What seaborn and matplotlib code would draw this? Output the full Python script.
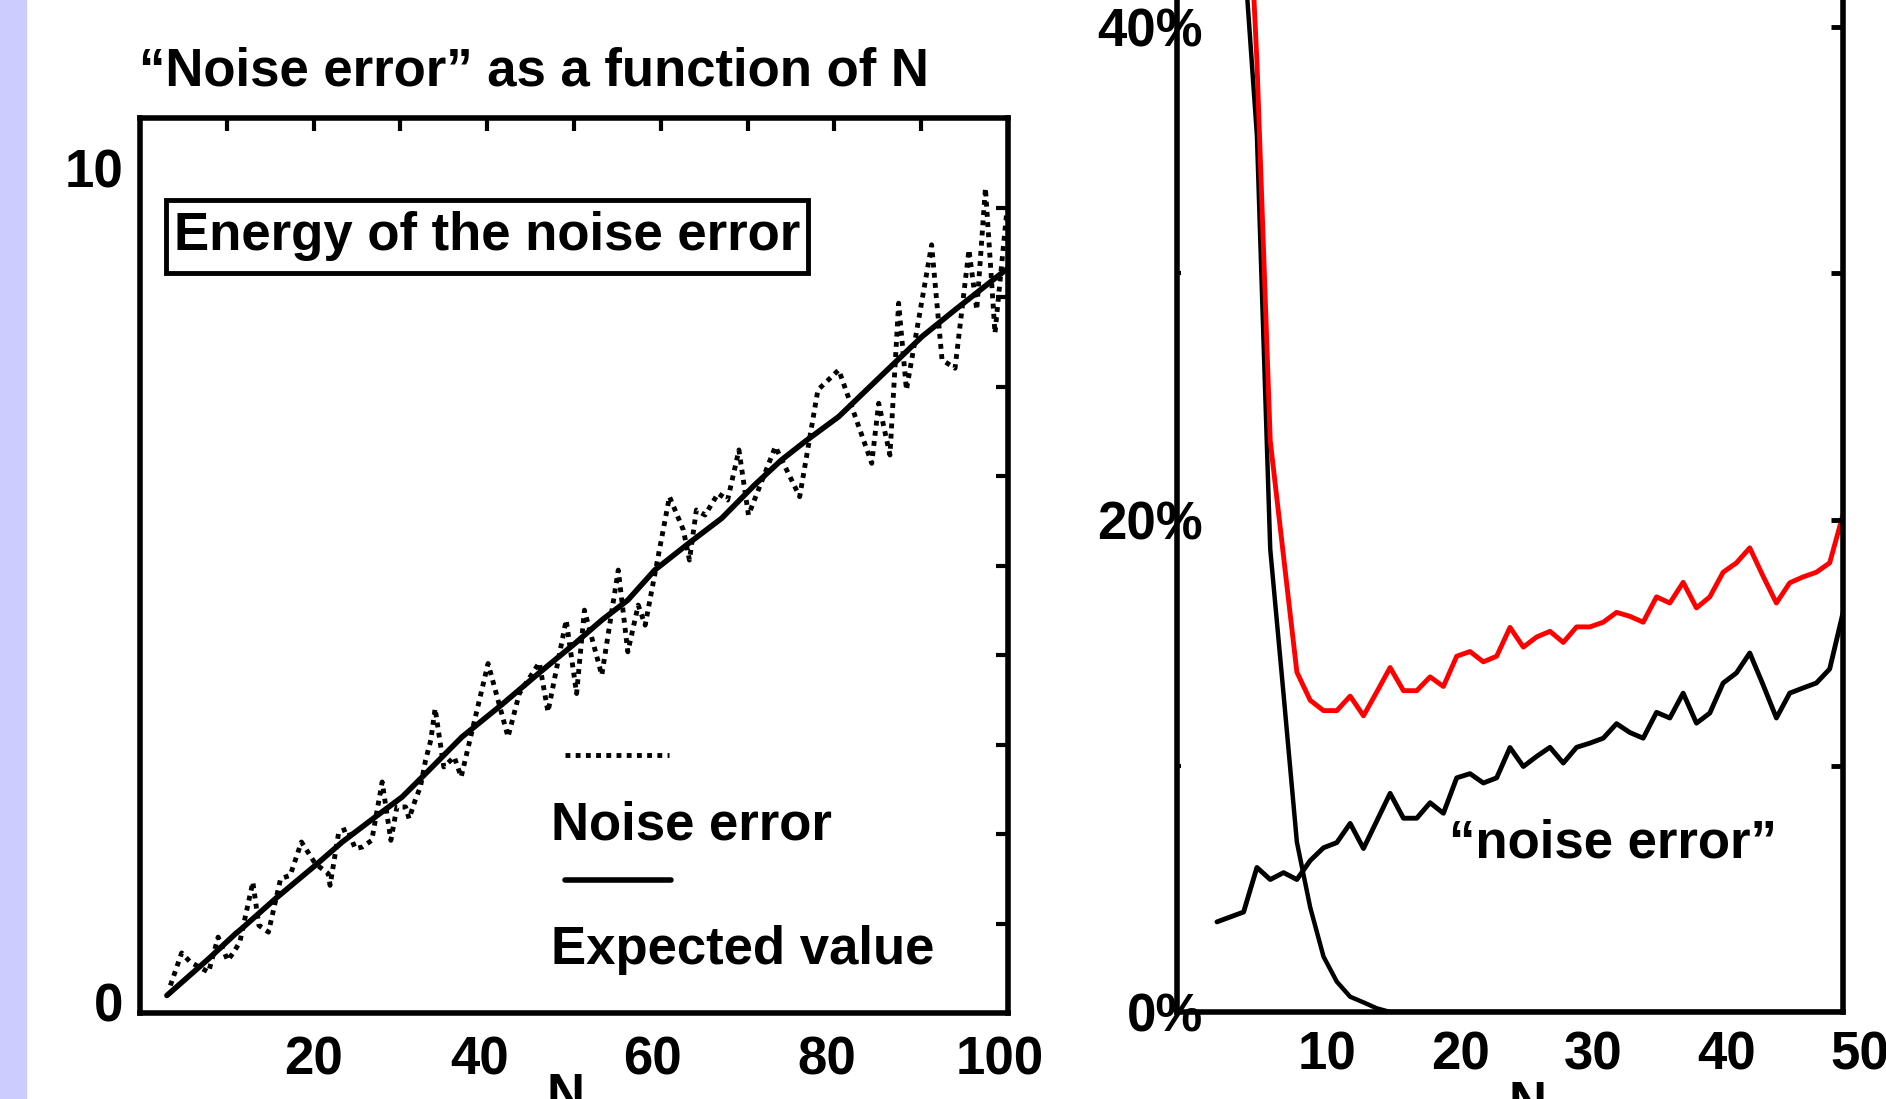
import numpy as np
import pandas as pd
import matplotlib
matplotlib.use('Agg')
import matplotlib.pyplot as plt
from matplotlib.lines import Line2D
from matplotlib.patches import Rectangle
from matplotlib.transforms import ScaledTranslation
import seaborn as sns

## ---------------- data ---------------- ##
# left panel: energy of the noise error as a function of N
noise_n = [3.5, 4.8, 5.8, 7.9, 9.0, 10.1, 10.8, 11.5, 13.0, 13.7, 14.8, 16.2, 17.3, 18.6,
           20.2, 21.7, 21.9, 22.9, 23.9, 24.8, 25.6, 26.7, 27.9, 28.9, 29.6, 30.6, 31.0,
           31.7, 32.3, 32.9, 33.5, 34.0, 35.0, 36.2, 37.0, 40.1, 42.4, 43.7, 46.0, 47.0,
           49.1, 50.3, 51.2, 53.2, 55.1, 56.2, 57.4, 58.2, 61.0, 62.6, 63.3, 64.1, 65.1,
           66.6, 67.7, 69.0, 70.1, 73.2, 76.0, 78.1, 80.5, 84.3, 85.1, 86.4, 87.4, 88.3,
           89.3, 91.2, 92.4, 93.9, 95.5, 96.4, 97.4, 98.5, 99.9]
noise_energy = [0.20, 0.59, 0.48, 0.36, 0.78, 0.50, 0.60, 0.72, 1.44, 0.92, 0.84, 1.48, 1.52, 1.92,
                1.66, 1.54, 1.40, 2.04, 2.08, 1.84, 1.86, 1.94, 2.64, 1.94, 2.34, 2.34, 2.20,
                2.42, 2.58, 2.90, 3.14, 3.52, 2.82, 2.94, 2.70, 4.06, 3.18, 3.70, 4.07, 3.48,
                4.58, 3.70, 4.70, 3.92, 5.18, 4.20, 4.76, 4.52, 6.06, 5.66, 5.30, 5.90, 5.84,
                6.10, 6.02, 6.62, 5.84, 6.66, 6.06, 7.34, 7.58, 6.46, 7.18, 6.56, 8.38, 7.34,
                7.94, 9.08, 7.70, 7.60, 9.02, 8.30, 9.76, 8.02, 9.52]
expected_n = [3.1, 7.9, 11.0, 11.7, 15.6, 20.2, 23.3, 27.1, 30.2, 32.9, 37.1, 41.6, 45.9, 50.1,
              53.2, 56.2, 59.3, 63.2, 67.0, 70.8, 73.9, 76.6, 80.5, 85.1, 90.1, 93.9, 100.0]
expected_energy = [0.08, 0.52, 0.82, 0.88, 1.24, 1.64, 1.92, 2.22, 2.46, 2.74, 3.18, 3.56, 3.94, 4.30,
                   4.58, 4.82, 5.18, 5.50, 5.80, 6.20, 6.50, 6.72, 7.02, 7.48, 7.98, 8.30, 8.80]

# right panel: error in percent as a function of N
pct_n = list(range(3, 51))
noise_pct = [3.66, 3.86, 4.06, 5.87, 5.38, 5.66, 5.38, 6.15, 6.67, 6.88, 7.66, 6.64, 7.76, 8.88,
             7.87, 7.87, 8.50, 8.07, 9.51, 9.68, 9.30, 9.51, 10.74, 9.97, 10.38, 10.75, 10.11,
             10.75, 10.92, 11.12, 11.71, 11.35, 11.12, 12.17, 11.94, 12.95, 11.73, 12.14, 13.36,
             13.77, 14.58, 13.29, 11.94, 12.95, 13.16, 13.36, 13.93, 16.21]
total_n = list(range(4, 51))
total_pct = [80.0, 50.0, 38.6, 23.2, 18.5, 13.8, 12.66, 12.24, 12.24, 12.83, 12.03, 13.0, 13.99,
             13.05, 13.05, 13.61, 13.22, 14.45, 14.64, 14.22, 14.45, 15.62, 14.82, 15.23, 15.46,
             15.01, 15.64, 15.64, 15.83, 16.23, 16.07, 15.83, 16.86, 16.61, 17.45, 16.41, 16.86,
             17.86, 18.24, 18.85, 17.70, 16.61, 17.43, 17.67, 17.86, 18.24, 20.20]
approx_pct = [65.0, 43.3, 35.6, 18.8, 12.9, 6.9, 4.25, 2.25, 1.23, 0.62, 0.39, 0.15] + [0.0] * 35

left_xticks = [10, 20, 30, 40, 50, 60, 70, 80, 90, 100]
left_xlabels = ['', '20', '', '40', '', '60', '', '80', '', '100']
left_yticks = [0, 10]
right_xticks = [5, 10, 15, 20, 25, 30, 35, 40, 45, 50]
right_xlabels = ['', '10', '', '20', '', '30', '', '40', '', '50']
right_yticks = [0, 10, 20, 30, 40]
right_ylabels = ['0%', '', '20%', '', '40%']

## ---------------- style ---------------- ##
sns.set_style('white')
plt.rcParams['font.family'] = ['Liberation Sans', 'DejaVu Sans']
plt.rcParams['font.weight'] = 'bold'
for k in ['text.color', 'axes.labelcolor', 'xtick.color', 'ytick.color', 'axes.edgecolor']:
    plt.rcParams[k] = 'black'
FS = 38

W, H = 1886, 1099
fig = plt.figure(figsize=(W / 100, H / 100), dpi=100)


def box(x0, y0, x1, y1):
    """pixel box (from top-left) -> figure fraction rect"""
    return [x0 / W, 1 - y1 / H, (x1 - x0) / W, (y1 - y0) / H]


def fx(x):
    return x / W


def fy(y):
    return 1 - y / H


# lavender strip on the left edge of the slide
fig.patches.append(Rectangle((0, 0), 26 / W, 1, transform=fig.transFigure, color='#ccccff', zorder=0))

## ---------------- left panel ---------------- ##
ax1 = fig.add_axes(box(140, 118, 1008, 1013))
sns.lineplot(x=noise_n, y=noise_energy, ax=ax1, color='black', lw=3.5,
             linestyle=(0, (1, 1.1)), sort=False)
sns.lineplot(x=expected_n, y=expected_energy, ax=ax1, color='black', lw=4, sort=False)
ax1.set_xlim(0, 100)
ax1.set_ylim(-0.13, 10.6)
ax1.set_xticks(left_xticks, left_xlabels)
ax1.set_yticks(left_yticks, [str(v) for v in left_yticks])
ax1.set_xlabel('')
ax1.set_ylabel('')
ax1.tick_params(axis='x', direction='in', length=9, width=3, top=True, pad=16, labelsize=FS)
ax1.tick_params(axis='y', length=0, pad=12, labelsize=FS)
for s in ax1.spines.values():
    s.set_linewidth(4)
for lbl, t in zip(ax1.get_xticklabels(), left_xticks):
    if t >= 40:
        lbl.set_transform(lbl.get_transform() + ScaledTranslation(-0.08, 0, fig.dpi_scale_trans))

ax1r = ax1.twinx()
ax1r.set_ylim(0, 10)
ax1r.set_yticks(range(1, 10))
ax1r.set_yticklabels([])
ax1r.tick_params(direction='in', length=9, width=3)
for s in ax1r.spines.values():
    s.set_visible(False)

fig.text(fx(534), fy(72), '\u201cNoise error\u201d as a function of N', ha='center', va='center', fontsize=FS)

# boxed caption
fig.patches.append(Rectangle((fx(166), fy(273)), (808 - 166) / W, (273 - 200) / H,
                             transform=fig.transFigure, fc='white', ec='black', lw=3.5, zorder=3))
fig.text(fx(487), fy(236), 'Energy of the noise error', ha='center', va='center', fontsize=FS, zorder=4)

# hand made legend
fig.add_artist(Line2D([fx(565), fx(669)], [fy(755), fy(755)], color='black', lw=3.5, linestyle=(0, (1, 1.1))))
fig.add_artist(Line2D([fx(565), fx(671)], [fy(880), fy(880)], color='black', lw=4))
fig.text(fx(551), fy(825), 'Noise error', ha='left', va='center', fontsize=FS)
fig.text(fx(551), fy(950), 'Expected value', ha='left', va='center', fontsize=FS)
fig.text(fx(565), fy(1072), 'N', ha='center', va='top', fontsize=FS)

## ---------------- right panel ---------------- ##
ax2 = fig.add_axes(box(1177, 0, 1843, 1012))
sns.lineplot(x=total_n, y=approx_pct, ax=ax2, color='black', lw=3.2, sort=False)
sns.lineplot(x=total_n, y=total_pct, ax=ax2, color='red', lw=3.5, sort=False)
sns.lineplot(x=pct_n, y=noise_pct, ax=ax2, color='black', lw=3.5, sort=False)
ax2.set_xlim(0, 50)
ax2.set_ylim(0, 41.1)
ax2.set_xticks(right_xticks, right_xlabels)
ax2.set_yticks(right_yticks, right_ylabels)
ax2.set_xlabel('')
ax2.set_ylabel('')
ax2.tick_params(axis='x', direction='in', length=14, width=3.5, pad=13, labelsize=FS)
ax2.tick_params(axis='y', direction='in', length=3, width=3, pad=0, labelsize=FS)
ax2.spines['top'].set_visible(False)
for s in ['left', 'right', 'bottom']:
    ax2.spines[s].set_linewidth(4)
for lbl in ax2.get_xticklabels():
    lbl.set_transform(lbl.get_transform() + ScaledTranslation(0.17, 0, fig.dpi_scale_trans))
for lbl in ax2.get_yticklabels():
    lbl.set_transform(lbl.get_transform() + ScaledTranslation(0.26, 0, fig.dpi_scale_trans))

ax2r = ax2.twinx()
ax2r.set_ylim(0, 41.1)
ax2r.set_yticks(right_yticks[1:])
ax2r.set_yticklabels([])
ax2r.tick_params(direction='in', length=9, width=3.5)
for s in ax2r.spines.values():
    s.set_visible(False)

fig.text(fx(1613), fy(844), '\u201cnoise error\u201d', ha='center', va='center', fontsize=FS)
fig.text(fx(1527), fy(1080), 'N', ha='center', va='top', fontsize=FS)

fig.savefig('out.png', dpi=100)
